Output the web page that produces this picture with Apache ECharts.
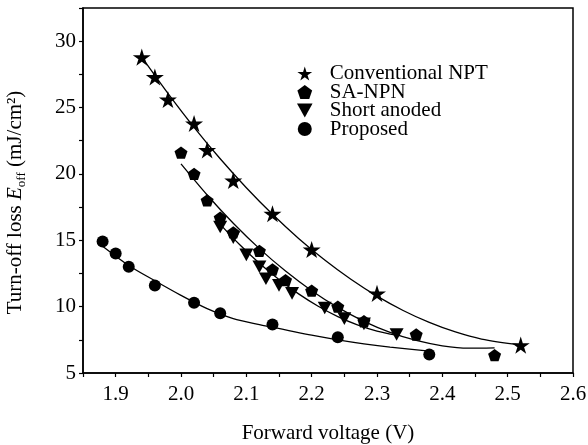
<!DOCTYPE html>
<html>
    <head>
        <meta charset="utf-8">
        <script src="https://cdn.jsdelivr.net/npm/echarts@6/dist/echarts.min.js"></script>
        <style>
            body { margin: 0; background: #fff; }
            #chart { width: 588px; height: 445px; }
        </style>
    </head>
    <body>
        <div id="chart"></div>
        <script type="text/javascript">

            // measured points
            const nptX = [1.94, 1.96, 1.98, 2.02, 2.04, 2.08, 2.14, 2.20, 2.30, 2.52];
            const nptY = [28.8, 27.3, 25.6, 23.8, 21.8, 19.5, 17.0, 14.3, 11.0, 7.1];

            const sanpnX = [2.00, 2.02, 2.04, 2.06, 2.08, 2.12, 2.14, 2.16, 2.20, 2.24, 2.28, 2.36, 2.48];
            const sanpnY = [21.6, 20.0, 18.0, 16.7, 15.6, 14.2, 12.8, 12.0, 11.2, 10.0, 8.9, 7.9, 6.35];

            const shortX = [2.06, 2.08, 2.10, 2.12, 2.13, 2.15, 2.17, 2.22, 2.25, 2.28, 2.33];
            const shortY = [16.0, 15.2, 13.9, 13.0, 12.1, 11.6, 11.0, 9.9, 9.1, 8.7, 7.9];

            const propX = [1.88, 1.90, 1.92, 1.96, 2.02, 2.06, 2.14, 2.24, 2.38];
            const propY = [14.9, 14.0, 13.0, 11.6, 10.3, 9.5, 8.65, 7.7, 6.4];

            // fitted curves
            const nptFitX = [1.94, 1.98, 2.02, 2.06, 2.10, 2.14, 2.18, 2.22, 2.26, 2.30, 2.34, 2.38, 2.42, 2.46, 2.52];
            const nptFitY = [28.8, 26.07, 23.51, 21.14, 18.96, 16.96, 15.14, 13.51, 12.06, 10.79, 9.71, 8.81, 8.09, 7.56, 7.11];

            const sanpnFitX = [2.00, 2.04, 2.08, 2.12, 2.16, 2.20, 2.24, 2.28, 2.32, 2.36, 2.40, 2.44, 2.48];
            const sanpnFitY = [20.75, 18.41, 16.28, 14.37, 12.68, 11.2, 9.94, 8.89, 8.06, 7.45, 7.05, 6.87, 6.9];

            const shortFitX = [2.06, 2.09, 2.12, 2.15, 2.18, 2.21, 2.24, 2.27, 2.30, 2.33];
            const shortFitY = [16.2, 14.66, 13.27, 12.04, 10.96, 10.03, 9.25, 8.63, 8.16, 7.85];

            const propFitX = [1.88, 1.92, 1.96, 2.00, 2.04, 2.08, 2.12, 2.16, 2.20, 2.24, 2.28, 2.32, 2.38];
            const propFitY = [14.55, 13.1, 11.95, 10.85, 9.85, 9.1, 8.65, 8.25, 7.85, 7.5, 7.2, 6.95, 6.65];

            const names = ["Conventional NPT", "SA-NPN", "Short anoded", "Proposed"];

            const starPath = "path://M50,0 L61,35 L98,35 L68,57 L79,91 L50,70 L21,91 L32,57 L2,35 L39,35 Z";
            const pentPath = "path://M50,0 L98,35 L79,91 L21,91 L2,35 Z";
            const triDown = "path://M0,0 L100,0 L50,90 Z";

            function zip(xs, ys) {
                let out = [];
                for (let i = 0; i < xs.length; i++) out.push([xs[i], ys[i]]);
                return out;
            }

            const font = "Liberation Serif";
            const fs = 21;

            function fitLine(xs, ys) {
                return {
                    type: 'line',
                    data: zip(xs, ys),
                    showSymbol: false,
                    smooth: 0.3,
                    lineStyle: { color: '#000', width: 1.3 },
                    z: 2,
                    silent: true
                };
            }

            function points(name, xs, ys, symbol, size) {
                return {
                    name: name,
                    type: 'scatter',
                    data: zip(xs, ys),
                    symbol: symbol,
                    symbolSize: size,
                    symbolKeepAspect: true,
                    itemStyle: { color: '#000', opacity: 1 },
                    z: 5
                };
            }

            let myChart = echarts.init(document.getElementById("chart"));

            let option = {
                animation: false,
                backgroundColor: '#fff',
                textStyle: { fontFamily: font, color: '#000' },
                grid: {
                    left: 83, right: 15, top: 8, bottom: 72,
                    containLabel: false,
                    outerBoundsMode: 'none',
                    show: true, borderColor: '#000', borderWidth: 1.5
                },
                legend: {
                    data: names.map(n => ({ name: n, itemStyle: { color: '#000', opacity: 1 } })),
                    orient: 'vertical',
                    left: 292,
                    top: 58,
                    itemGap: -2.5,
                    itemWidth: 26,
                    itemHeight: 14,
                    textStyle: { fontFamily: font, fontSize: fs, color: '#000', padding: [0, 0, 0, 7] }
                },
                xAxis: {
                    type: 'value',
                    min: 1.85,
                    max: 2.6,
                    interval: 0.05,
                    axisLine: { lineStyle: { color: '#000', width: 1.5 } },
                    axisTick: { inside: false, length: 4, lineStyle: { color: '#000', width: 1.2 } },
                    splitLine: { show: false },
                    axisLabel: {
                        fontFamily: font, fontSize: fs, color: '#000', margin: 11,
                        formatter: function (v) {
                            let k = Math.round(v * 100);
                            if (k % 10 !== 0) return '';
                            return (k / 100).toFixed(1);
                        }
                    },
                    name: 'Forward voltage (V)',
                    nameLocation: 'middle',
                    nameGap: 50,
                    nameTextStyle: { fontFamily: font, fontSize: fs, color: '#000' }
                },
                yAxis: {
                    type: 'value',
                    min: 5,
                    max: 32.5,
                    interval: 2.5,
                    axisLine: { show: true, lineStyle: { color: '#000', width: 1.5 } },
                    axisTick: { show: true, inside: false, length: 4, lineStyle: { color: '#000', width: 1.2 } },
                    splitLine: { show: false },
                    axisLabel: {
                        fontFamily: font, fontSize: fs, color: '#000', margin: 7,
                        formatter: function (v) {
                            let k = Math.round(v * 10);
                            if (k % 50 !== 0 || k > 300) return '';
                            return String(k / 10);
                        }
                    },
                    name: '{n|Turn-off loss }{i|E}{s|off}{n| (mJ/cm²)}',
                    nameLocation: 'middle',
                    nameRotate: 90,
                    nameGap: 55,
                    nameTextStyle: {
                        fontFamily: font, fontSize: fs, color: '#000',
                        padding: [0, 24, 0, 0],
                        rich: {
                            n: { fontFamily: font, fontSize: fs, color: '#000', lineHeight: 26 },
                            i: { fontFamily: font, fontSize: fs, fontStyle: 'italic', color: '#000', lineHeight: 26 },
                            s: { fontFamily: font, fontSize: 13, color: '#000', verticalAlign: 'bottom', lineHeight: 26, padding: [7, 0, 0, 0] }
                        }
                    }
                },
                series: [
                    fitLine(nptFitX, nptFitY),
                    fitLine(sanpnFitX, sanpnFitY),
                    fitLine(shortFitX, shortFitY),
                    fitLine(propFitX, propFitY),
                    points(names[0], nptX, nptY, starPath, 18),
                    points(names[1], sanpnX, sanpnY, pentPath, 13),
                    points(names[2], shortX, shortY, triDown, 14),
                    points(names[3], propX, propY, 'circle', 12)
                ]
            };

            option && myChart.setOption(option);

        </script>
    </body>
</html>
